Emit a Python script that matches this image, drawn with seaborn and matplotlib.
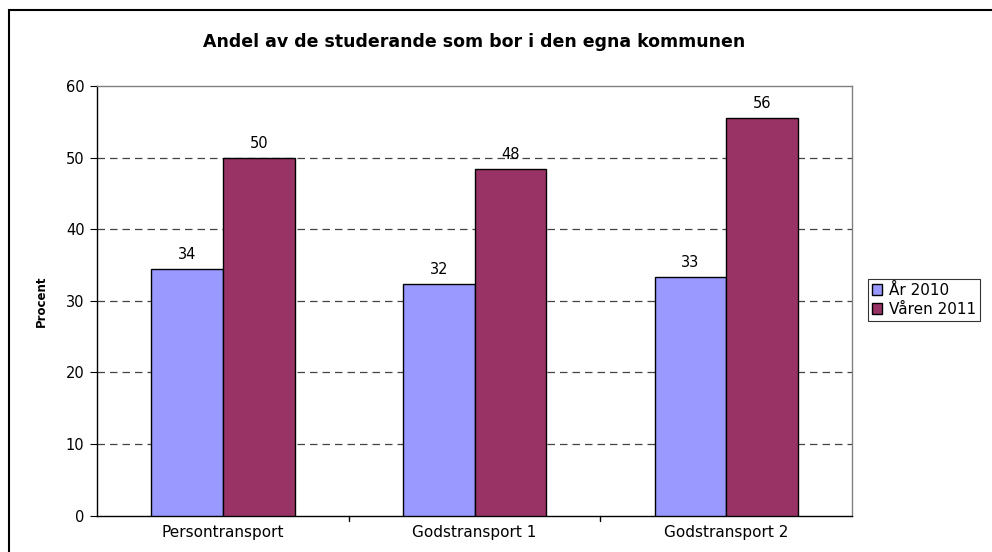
import pandas as pd
import seaborn as sns
import matplotlib.pyplot as plt
from matplotlib.patches import Rectangle

categories = ['Persontransport', 'Godstransport 1', 'Godstransport 2']
series = ['År 2010', 'Våren 2011']
ar_2010 = [34.4, 32.3, 33.3]
varen_2011 = [50.0, 48.4, 55.6]
labels_2010 = ['34', '32', '33']
labels_2011 = ['50', '48', '56']

df = pd.DataFrame({
    'kategori': categories * 2,
    'serie': [series[0]] * 3 + [series[1]] * 3,
    'procent': ar_2010 + varen_2011,
})

sns.set_style('white')
plt.rcParams['font.family'] = ['DejaVu Sans']
plt.rcParams['text.color'] = 'black'
plt.rcParams['axes.labelcolor'] = 'black'
plt.rcParams['xtick.color'] = 'black'
plt.rcParams['ytick.color'] = 'black'

fig = plt.figure(figsize=(9.92, 5.52), dpi=100)
ax = fig.add_axes([0.0978, 0.066, 0.7612, 0.778])

sns.barplot(data=df, x='kategori', y='procent', hue='serie',
            palette=['#9999FF', '#993366'], width=0.57,
            edgecolor='black', linewidth=1, saturation=1, ax=ax, zorder=3)

ax.set_ylim(0, 60)
ax.set_xlim(-0.5, 2.5)
ax.set_yticks(range(0, 61, 10))
ax.tick_params(axis='y', labelsize=10.5, length=5, direction='out', left=True, pad=4)
ax.tick_params(axis='x', labelsize=11, length=0, pad=7)
# tick marks between categories, like the original
for b in [0.5, 1.5]:
    ax.plot([b, b], [0, -0.012], transform=ax.get_xaxis_transform(),
            color='black', lw=1, clip_on=False)
for y in range(10, 60, 10):
    ax.axhline(y, color='#444444', lw=0.9, ls=(0, (6, 4)), zorder=1)

for s in ['left', 'bottom']:
    ax.spines[s].set_color('black')
    ax.spines[s].set_linewidth(1)
for s in ['top', 'right']:
    ax.spines[s].set_color('#808080')
    ax.spines[s].set_linewidth(1)

ax.set_xlabel('')
ax.set_ylabel('Procent', fontsize=8.5, fontweight='bold', labelpad=13)

for cont, labs in zip(ax.containers, [labels_2010, labels_2011]):
    ax.bar_label(cont, labels=labs, padding=5, fontsize=10.5)

ax.set_title('Andel av de studerande som bor i den egna kommunen',
             fontsize=12.5, fontweight='bold', pad=28)

leg = ax.legend(loc='center left', bbox_to_anchor=(1.021, 0.502), fontsize=11,
                frameon=True, fancybox=False, edgecolor='black',
                handlelength=0.7, handleheight=0.7, handletextpad=0.4,
                borderpad=0.25, labelspacing=0.25, borderaxespad=0)
leg.get_frame().set_linewidth(0.8)

# outer chart border (left and top visible, rest cropped)
fig.patches.append(Rectangle((9 / 992, -0.1), 1.2, 1.1 - 10 / 552,
                             transform=fig.transFigure, fill=False,
                             edgecolor='black', lw=1.5))

fig.savefig('out.png', dpi=100)
